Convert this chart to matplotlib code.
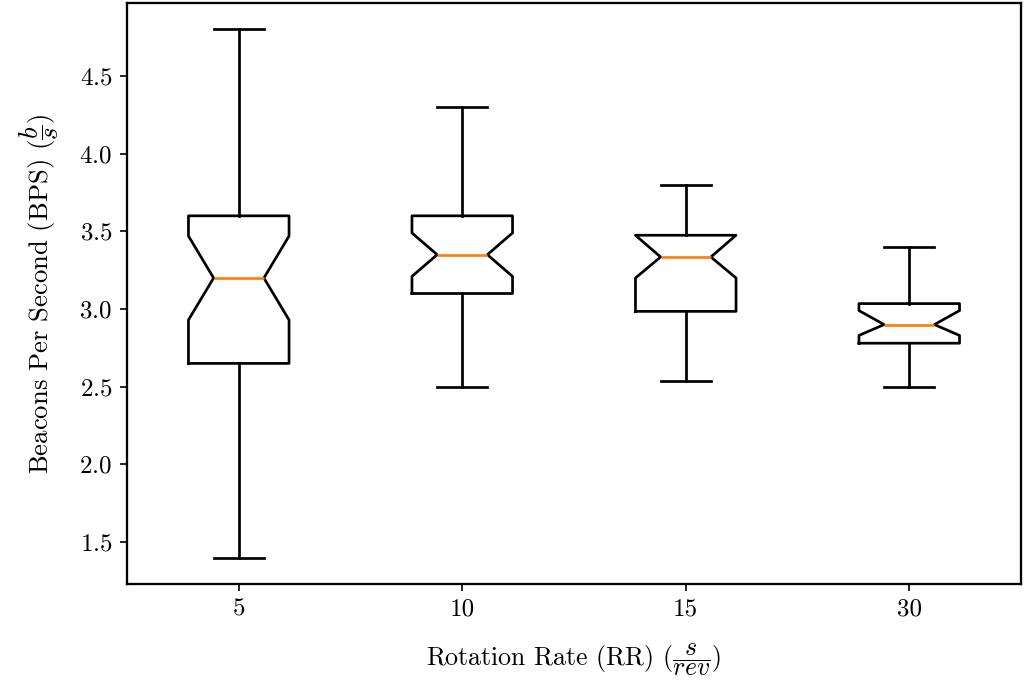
import matplotlib
matplotlib.use("Agg")
import matplotlib.pyplot as plt

plt.rcParams['font.family'] = 'serif'
plt.rcParams['font.serif'] = ['cmr10']
plt.rcParams['mathtext.fontset'] = 'cm'
plt.rcParams['axes.formatter.use_mathtext'] = True
plt.rcParams['font.size'] = 12

labels = ['5', '10', '15', '30']
medians = [3.20, 3.35, 3.335, 2.90]
q1s = [2.65, 3.10, 2.985, 2.78]
q3s = [3.60, 3.60, 3.475, 3.035]
whislos = [1.40, 2.50, 2.535, 2.50]
whishis = [4.80, 4.30, 3.80, 3.40]
cilos = [2.93, 3.21, 3.20, 2.83]
cihis = [3.47, 3.49, 3.475, 2.99]

stats = []
for lab, med, q1, q3, lo, hi, cl, ch in zip(labels, medians, q1s, q3s, whislos, whishis, cilos, cihis):
    stats.append(dict(label=lab, med=med, q1=q1, q3=q3, whislo=lo, whishi=hi,
                      cilo=cl, cihi=ch, fliers=[]))

lw = 1.3
fig = plt.figure(figsize=(1024/150, 687/150), dpi=150)
ax = fig.add_axes([127/1024, 1-584/687, (1021-127)/1024, (584-3)/687])
ax.bxp(stats, shownotches=True, widths=0.45, showfliers=False,
       boxprops=dict(linewidth=lw), whiskerprops=dict(linewidth=lw),
       capprops=dict(linewidth=lw), medianprops=dict(linewidth=lw))
for s in ax.spines.values():
    s.set_linewidth(1.1)
ax.set_ylabel(r'Beacons Per Second (BPS) ($\dfrac{b}{s}$)', labelpad=9, fontsize=12.8)
ax.set_xlabel(r'Rotation Rate (RR) ($\dfrac{s}{rev}$)', labelpad=10, fontsize=12.4)
fig.savefig('out.png', dpi=150)
